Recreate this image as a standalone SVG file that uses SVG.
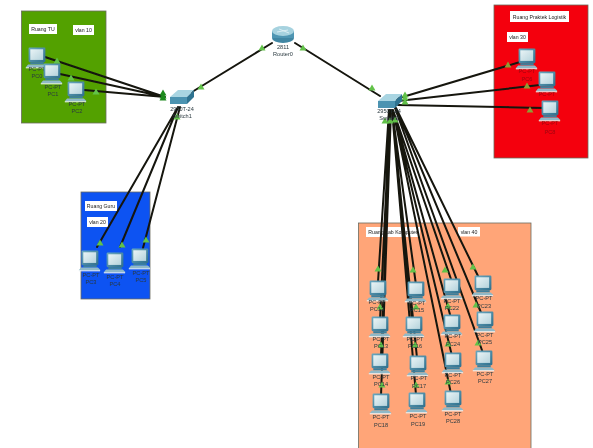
<svg xmlns="http://www.w3.org/2000/svg" width="593" height="448" viewBox="0 0 593 448">
<style>
text{font-family:"Liberation Sans",Arial,sans-serif;font-size:5.600px;text-anchor:middle;fill:#2b3a40}
.tg{font-size:5.200px;fill:#222}
.room{stroke:#6b6b5f;stroke-width:.8}
.tag{fill:#fff}
.l{stroke:#15150f;stroke-width:2;fill:none;stroke-linecap:round}
.t{fill:#62c24a}
.d{fill:#1f8a1f}
.o{fill:#8f9c35}
.rd text{fill:#9a0a0a}
</style>
<defs>
<filter id="soft" x="0" y="0" width="100%" height="100%"><feGaussianBlur stdDeviation="0.45"/></filter>
<linearGradient id="body" x1="0" y1="0" x2="1" y2="1"><stop offset="0" stop-color="#6aa8c0"/><stop offset="1" stop-color="#2f6f8c"/></linearGradient>
<linearGradient id="scr" x1="0" y1="0" x2="1" y2="1"><stop offset="0" stop-color="#eaf4f6"/><stop offset="1" stop-color="#b5d3dc"/></linearGradient>
<g id="pc" transform="scale(1.12)">
<rect x="-7.500" y="-7.500" width="15" height="13" rx="1" fill="url(#body)"/>
<rect x="-6" y="-6" width="11.500" height="9.500" fill="url(#scr)"/>
<rect x="-6" y="5.500" width="12" height="2" fill="#3d7f9c"/>
<path d="M-8 7.500H7L9.500 10H-10Z" fill="#8fb9c8"/>
<rect x="-10" y="10" width="19" height="1" fill="#e8f0f2"/>
</g>
<path id="tr" d="M0-3.500L3.500 2.500H-3.500Z"/>
</defs>
<g filter="url(#soft)">
<rect width="593" height="448" fill="#fff"/>
<g id="rooms">
<rect class="room" x="21.500" y="11" width="84.500" height="112" fill="#53a100"/>
<rect class="room" x="81" y="192" width="69" height="107" fill="#0b52f2" stroke="#0b52f2"/>
<rect class="room" x="494" y="5" width="94" height="153" fill="#f40308" stroke="#d8d8d8"/>
<rect class="room" x="358.500" y="223" width="172.500" height="226" fill="#ffa578"/>
</g>
<g id="room-labels">
<rect class="tag" x="29" y="24" width="28" height="10"/><text class="tg" x="43" y="31">Ruang TU</text>
<rect class="tag" x="73" y="25" width="21" height="10"/><text class="tg" x="83.500" y="32">vlan 10</text>
<rect class="tag" x="85" y="201" width="32" height="10"/><text class="tg" x="101" y="208">Ruang Guru</text>
<rect class="tag" x="87" y="217" width="21" height="10"/><text class="tg" x="97.500" y="224">vlan 20</text>
<rect class="tag" x="510" y="11" width="59" height="11"/><text class="tg" x="539.500" y="18.500">Ruang Praktek Logistik</text>
<rect class="tag" x="507" y="32" width="21" height="10"/><text class="tg" x="517.500" y="39">vlan 30</text>
<rect class="tag" x="366" y="227" width="54" height="10"/><text class="tg" x="393" y="234">Ruang Lab Komputer</text>
<rect class="tag" x="458" y="227" width="22" height="9.500"/><text class="tg" x="469" y="234">vlan 40</text>
</g>
<g id="connectors">
<path class="l" d="M45 57L165 97M60 74L165 97M84 90L165 97"/>
<path class="l" d="M178 107L97 247M178 107L120 247M180 107L143 248"/>
<path class="l" d="M192 92L272 43M295 43L380 96"/>
<path class="l" d="M396 99L520 62M398 101L540 85M398 105L545 108"/>
<path class="l" d="M389 110L378 282M390 110L380 320M391 110L381 356M391 110L381 396"/>
<path class="l" d="M392 110L416 285M392 110L412 320M392 110L417 358M392 110L416 395"/>
<path class="l" d="M393 110L452 282M393 110L451 318M393 110L452 356M393 110L451 394"/>
<path class="l" d="M396 108L479 278M396 108L482 315M395 108L483 353"/>
<g id="link-marks">
<use href="#tr" class="t" x="57" y="61"/><use href="#tr" class="t" x="71" y="78"/><use href="#tr" class="t" x="96" y="92"/>
<use href="#tr" class="d" x="163" y="93"/><use href="#tr" class="d" x="163" y="96"/><use href="#tr" class="d" x="163" y="98"/>
<use href="#tr" class="t" x="201" y="87"/><use href="#tr" class="t" x="262" y="48"/><use href="#tr" class="t" x="303" y="48"/><use href="#tr" class="t" x="372" y="88"/>
<use href="#tr" class="t" x="177" y="117"/>
<use href="#tr" class="t" x="100" y="243"/><use href="#tr" class="t" x="122" y="245"/><use href="#tr" class="t" x="146" y="240"/>
<use href="#tr" class="t" x="405" y="95"/><use href="#tr" class="t" x="405" y="98"/><use href="#tr" class="t" x="405" y="102"/>
<use href="#tr" class="o" x="508" y="65"/><use href="#tr" class="o" x="527" y="86"/><use href="#tr" class="o" x="530" y="110"/>
<use href="#tr" class="t" x="385" y="121"/><use href="#tr" class="t" x="390" y="121"/><use href="#tr" class="t" x="395" y="120"/>
<use href="#tr" class="t" x="378" y="269"/><use href="#tr" class="t" x="413" y="270"/><use href="#tr" class="t" x="445" y="270"/><use href="#tr" class="t" x="473" y="267"/>
<use href="#tr" class="t" x="380" y="307"/><use href="#tr" class="t" x="416" y="307"/><use href="#tr" class="t" x="448" y="306"/><use href="#tr" class="t" x="476" y="305"/>
<use href="#tr" class="t" x="381" y="345"/><use href="#tr" class="t" x="415" y="345"/><use href="#tr" class="t" x="448" y="344"/><use href="#tr" class="t" x="478" y="343"/>
<use href="#tr" class="t" x="382" y="385"/><use href="#tr" class="t" x="416" y="385"/><use href="#tr" class="t" x="448" y="382"/>
</g>
</g>
<g id="Router0">
<ellipse cx="283" cy="38" rx="11" ry="5" fill="#3f86a3"/><rect x="272" y="31" width="22" height="7" fill="#4f96b3"/>
<ellipse cx="283" cy="31" rx="11" ry="5" fill="#a6d2df"/><path d="M277 32L288 30M279 29L289 33" stroke="#e6f4f7" stroke-width=".8"/>
<text x="283" y="49">2811</text><text x="283" y="55.500">Router0</text>
</g>
<g id="Switch1">
<path d="M170 97L178 90H194L187 97Z" fill="#a9d5e2"/><path d="M170 97H187V104H170Z" fill="#4b93b1"/><path d="M187 97L194 90V97L187 104Z" fill="#2f7391"/>
<text x="182" y="111">2950T-24</text><text x="182" y="117.500">Switch1</text>
</g>
<g id="Switch2">
<path d="M378 101L386 94H402L395 101Z" fill="#a9d5e2"/><path d="M378 101H395V108H378Z" fill="#4b93b1"/><path d="M395 101L402 94V101L395 108Z" fill="#2f7391"/>
<text x="389" y="113">2950T-24</text><text x="389" y="119.500">Switch2</text>
</g>
<g id="PC0"><use href="#pc" x="37" y="56"/><text x="37" y="71">PC-PT</text><text x="37" y="78">PC0</text></g>
<g id="PC1"><use href="#pc" x="52" y="72"/><text x="53" y="89">PC-PT</text><text x="53" y="96">PC1</text></g>
<g id="PC2"><use href="#pc" x="76" y="90"/><text x="77" y="106">PC-PT</text><text x="77" y="113">PC2</text></g>
<g id="PC3"><use href="#pc" x="90" y="259"/><text x="91" y="277">PC-PT</text><text x="91" y="284">PC3</text></g>
<g id="PC4"><use href="#pc" x="115" y="261"/><text x="115" y="279">PC-PT</text><text x="115" y="286">PC4</text></g>
<g id="PC5"><use href="#pc" x="140" y="257"/><text x="141" y="275">PC-PT</text><text x="141" y="282">PC5</text></g>
<g id="PC6" class="rd"><use href="#pc" x="527" y="57"/><text x="527" y="73">PC-PT</text><text x="527" y="81">PC6</text></g>
<g id="PC7" class="rd"><use href="#pc" x="547" y="80"/><text x="547" y="96">PC-PT</text></g>
<g id="PC8" class="rd"><use href="#pc" x="550" y="109"/><text x="550" y="125">PC-PT</text><text x="550" y="134">PC8</text></g>
<g id="PC12"><use href="#pc" x="378" y="289"/><text x="377" y="304">PC-PT</text><text x="377" y="311">PC12</text></g>
<g id="PC13"><use href="#pc" x="380" y="325"/><text x="381" y="341">PC-PT</text><text x="381" y="348">PC13</text></g>
<g id="PC14"><use href="#pc" x="380" y="362"/><text x="381" y="379">PC-PT</text><text x="381" y="386">PC14</text></g>
<g id="PC18"><use href="#pc" x="381" y="402"/><text x="381" y="419">PC-PT</text><text x="381" y="427">PC18</text></g>
<g id="PC15"><use href="#pc" x="416" y="290"/><text x="417" y="305">PC-PT</text><text x="417" y="312">PC15</text></g>
<g id="PC16"><use href="#pc" x="414" y="325"/><text x="415" y="341">PC-PT</text><text x="415" y="348">PC16</text></g>
<g id="PC17"><use href="#pc" x="418" y="364"/><text x="419" y="380">PC-PT</text><text x="419" y="388">PC17</text></g>
<g id="PC19"><use href="#pc" x="417" y="401"/><text x="418" y="418">PC-PT</text><text x="418" y="426">PC19</text></g>
<g id="PC22"><use href="#pc" x="452" y="287"/><text x="452" y="303">PC-PT</text><text x="452" y="310">PC22</text></g>
<g id="PC24"><use href="#pc" x="452" y="323"/><text x="453" y="338">PC-PT</text><text x="453" y="346">PC24</text></g>
<g id="PC26"><use href="#pc" x="453" y="361"/><text x="453" y="377">PC-PT</text><text x="453" y="384">PC26</text></g>
<g id="PC28"><use href="#pc" x="453" y="399"/><text x="453" y="416">PC-PT</text><text x="453" y="423">PC28</text></g>
<g id="PC23"><use href="#pc" x="483" y="284"/><text x="484" y="300">PC-PT</text><text x="484" y="308">PC23</text></g>
<g id="PC25"><use href="#pc" x="485" y="320"/><text x="485" y="337">PC-PT</text><text x="485" y="344">PC25</text></g>
<g id="PC27"><use href="#pc" x="484" y="359"/><text x="485" y="376">PC-PT</text><text x="485" y="383">PC27</text></g>
</g>
</svg>
